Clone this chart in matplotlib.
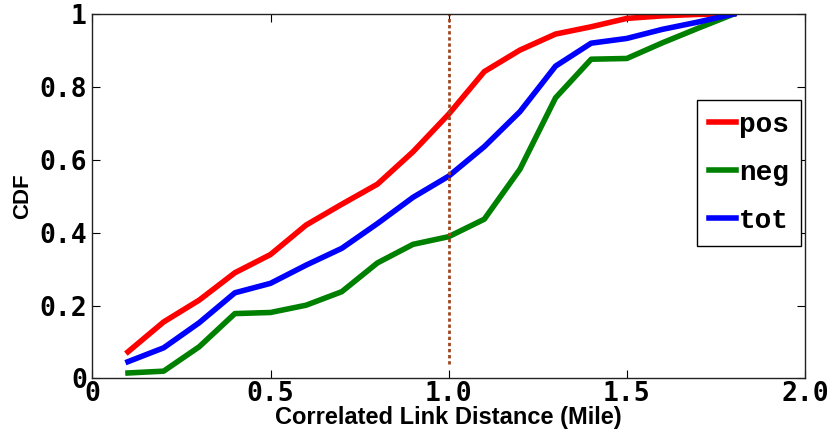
import matplotlib
matplotlib.use('Agg')
import matplotlib.pyplot as plt
import numpy as np

distance = [0.1, 0.2, 0.3, 0.4, 0.5, 0.6, 0.7, 0.8, 0.9, 1.0, 1.1, 1.2, 1.3, 1.4, 1.5, 1.6, 1.7, 1.8]
pos = [0.073, 0.155, 0.215, 0.29, 0.34, 0.421, 0.478, 0.533, 0.622, 0.725, 0.842, 0.901, 0.945, 0.965, 0.988, 0.995, 0.999, 1.0]
neg = [0.015, 0.02, 0.087, 0.178, 0.181, 0.201, 0.238, 0.317, 0.368, 0.389, 0.437, 0.574, 0.770, 0.876, 0.878, 0.921, 0.961, 1.0]
tot = [0.046, 0.084, 0.153, 0.235, 0.261, 0.311, 0.357, 0.425, 0.497, 0.555, 0.636, 0.732, 0.857, 0.92, 0.933, 0.958, 0.978, 1.0]

xticks = [0, 0.5, 1.0, 1.5, 2.0]
xticklabels = ['0', '0.5', '1.0', '1.5', '2.0']
yticks = [0, 0.2, 0.4, 0.6, 0.8, 1]
yticklabels = ['0', '0.2', '0.4', '0.6', '0.8', '1']

fig = plt.figure(figsize=(8.32, 4.34), dpi=100)
ax = fig.add_axes([0.111, 0.128, 0.8565, 0.8397])

ax.plot(distance, pos, color='red', lw=4, label='pos')
ax.plot(distance, neg, color='green', lw=4, label='neg')
ax.plot(distance, tot, color='blue', lw=4, label='tot')
ax.plot([1.0, 1.0], [0.04, 1.0], color='#a0461e', lw=2, linestyle=(0, (1.2, 1.0)))

ax.set_xlim(0, 2)
ax.set_ylim(0, 1)
ax.set_xticks(xticks)
ax.set_xticklabels(xticklabels)
ax.set_yticks(yticks)
ax.set_yticklabels(yticklabels)
ax.tick_params(direction='in', top=True, right=True, length=6, width=0.8, pad=4)
ax.tick_params(axis='x', pad=2)
for lab in ax.get_xticklabels() + ax.get_yticklabels():
    lab.set_family('DejaVu Sans Mono')
    lab.set_fontweight('bold')
    lab.set_fontsize(19)
for s in ax.spines.values():
    s.set_linewidth(1.0)
    s.set_color('#222222')

lfont = ['Liberation Sans', 'DejaVu Sans']
ax.set_xlabel('Correlated Link Distance (Mile)', family=lfont, fontweight='bold', fontsize=17, labelpad=-1)
ax.set_ylabel('CDF', family=lfont, fontweight='bold', fontsize=16)
ax.yaxis.set_label_coords(-0.083, 0.5)

leg = ax.legend(loc='upper right', bbox_to_anchor=(0.994, 0.764), borderaxespad=0,
                prop={'family': 'Liberation Mono', 'weight': 'bold', 'size': 20},
                handlelength=1.0, handletextpad=0.1, labelspacing=0.8, borderpad=0.42,
                fancybox=False, framealpha=1, edgecolor='black')
leg.get_frame().set_linewidth(1.0)

fig.savefig('out.png', dpi=100)
